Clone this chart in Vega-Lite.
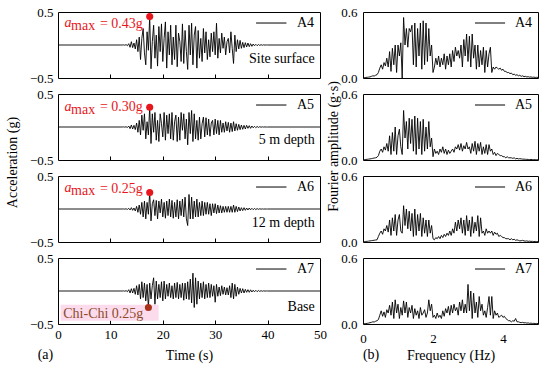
{
"$schema": "https://vega.github.io/schema/vega-lite/v6.json",
"padding": {"left": 4, "top": 5, "right": 5, "bottom": 5},
"config": {
  "font": "Liberation Serif",
  "view": {"stroke": "black", "strokeWidth": 1},
  "axis": {"domain": false, "grid": false, "labelFont": "Liberation Serif", "labelFontSize": 13, "labelColor": "black", "titleFont": "Liberation Serif", "titleFontSize": 14, "titleFontWeight": "normal", "titleColor": "black", "tickColor": "black", "labelFlush": false},
  "text": {"font": "Liberation Serif", "fontSize": 14, "color": "black"}
},
"datasets": {
"ts": [
{"t":0,"a4":0,"a5":0,"a6":0,"a7":0},
{"t":12,"a4":0,"a5":0,"a6":0,"a7":0},
{"t":12.25,"a4":0,"a5":0,"a6":0,"a7":0},
{"t":12.5,"a4":0.002,"a5":0.002,"a6":0.001,"a7":0.002},
{"t":12.75,"a4":-0.003,"a5":-0.002,"a6":-0.002,"a7":-0.003},
{"t":13,"a4":0.005,"a5":0.004,"a6":0.003,"a7":0.005},
{"t":13.25,"a4":-0.01,"a5":-0.008,"a6":-0.006,"a7":-0.01},
{"t":13.5,"a4":0.02,"a5":0.015,"a6":0.01,"a7":0.02},
{"t":13.75,"a4":-0.035,"a5":-0.025,"a6":-0.015,"a7":-0.03},
{"t":14,"a4":0.05,"a5":0.03,"a6":0.02,"a7":0.035},
{"t":14.25,"a4":-0.04,"a5":-0.03,"a6":-0.02,"a7":-0.03},
{"t":14.5,"a4":0.03,"a5":0.025,"a6":0.015,"a7":0.04},
{"t":14.75,"a4":-0.06,"a5":-0.04,"a6":-0.03,"a7":-0.05},
{"t":15,"a4":0.08,"a5":0.06,"a6":0.04,"a7":0.08},
{"t":15.25,"a4":-0.1,"a5":-0.08,"a6":-0.05,"a7":-0.06},
{"t":15.5,"a4":0.12,"a5":0.1,"a6":0.06,"a7":0.1},
{"t":15.75,"a4":-0.22,"a5":-0.12,"a6":-0.08,"a7":-0.12},
{"t":16,"a4":0.1,"a5":0.18,"a6":0.1,"a7":0.14},
{"t":16.25,"a4":0.25,"a5":-0.05,"a6":-0.12,"a7":-0.1},
{"t":16.5,"a4":-0.12,"a5":0.2,"a6":0.12,"a7":0.12},
{"t":16.75,"a4":-0.3,"a5":-0.18,"a6":-0.15,"a7":-0.15},
{"t":17,"a4":0.2,"a5":0.08,"a6":0.1,"a7":0.1},
{"t":17.25,"a4":-0.08,"a5":-0.12,"a6":-0.08,"a7":-0.25},
{"t":17.5,"a4":0.43,"a5":0.3,"a6":0.25,"a7":0.12},
{"t":17.75,"a4":-0.36,"a5":-0.25,"a6":-0.18,"a7":-0.12},
{"t":18,"a4":0.05,"a5":0.2,"a6":0.08,"a7":0.08},
{"t":18.25,"a4":0.3,"a5":-0.08,"a6":0.14,"a7":0.2},
{"t":18.5,"a4":-0.2,"a5":0.22,"a6":-0.1,"a7":-0.2},
{"t":18.75,"a4":0.15,"a5":-0.2,"a6":0.13,"a7":0.15},
{"t":19,"a4":-0.32,"a5":0.1,"a6":-0.15,"a7":-0.12},
{"t":19.25,"a4":0.28,"a5":-0.22,"a6":0.12,"a7":0.1},
{"t":19.5,"a4":-0.1,"a5":0.2,"a6":-0.06,"a7":-0.1},
{"t":19.75,"a4":0.32,"a5":0.05,"a6":0.15,"a7":0.14},
{"t":20,"a4":-0.25,"a5":-0.15,"a6":-0.12,"a7":-0.15},
{"t":20.25,"a4":0.1,"a5":0.22,"a6":0.1,"a7":0.15},
{"t":20.5,"a4":0.35,"a5":-0.2,"a6":-0.14,"a7":-0.12},
{"t":20.75,"a4":-0.35,"a5":0.18,"a6":0.12,"a7":0.1},
{"t":21,"a4":0.2,"a5":-0.1,"a6":-0.1,"a7":-0.08},
{"t":21.25,"a4":-0.15,"a5":0.2,"a6":0.15,"a7":0.12},
{"t":21.5,"a4":0.3,"a5":-0.18,"a6":-0.12,"a7":-0.1},
{"t":21.75,"a4":-0.3,"a5":0.22,"a6":0.13,"a7":0.08},
{"t":22,"a4":0.12,"a5":-0.2,"a6":-0.14,"a7":-0.12},
{"t":22.25,"a4":-0.22,"a5":0.08,"a6":0.1,"a7":0.12},
{"t":22.5,"a4":0.3,"a5":0.18,"a6":-0.12,"a7":-0.1},
{"t":22.75,"a4":-0.33,"a5":-0.22,"a6":0.14,"a7":0.13},
{"t":23,"a4":0.18,"a5":0.15,"a6":-0.15,"a7":-0.12},
{"t":23.25,"a4":0.05,"a5":-0.2,"a6":0.12,"a7":0.1},
{"t":23.5,"a4":-0.25,"a5":0.22,"a6":-0.1,"a7":-0.1},
{"t":23.75,"a4":0.32,"a5":-0.05,"a6":0.15,"a7":0.12},
{"t":24,"a4":-0.28,"a5":0.2,"a6":-0.12,"a7":-0.14},
{"t":24.25,"a4":0.22,"a5":-0.18,"a6":0.18,"a7":0.12},
{"t":24.5,"a4":-0.1,"a5":0.12,"a6":-0.15,"a7":-0.12},
{"t":24.75,"a4":-0.37,"a5":-0.27,"a6":-0.25,"a7":0.14},
{"t":25,"a4":0.3,"a5":0.22,"a6":0.22,"a7":-0.13},
{"t":25.25,"a4":-0.15,"a5":-0.1,"a6":-0.15,"a7":0.18},
{"t":25.5,"a4":0.33,"a5":0.25,"a6":0.18,"a7":-0.18},
{"t":25.75,"a4":-0.3,"a5":-0.22,"a6":-0.15,"a7":0.27},
{"t":26,"a4":0.15,"a5":0.2,"a6":0.12,"a7":-0.25},
{"t":26.25,"a4":0.28,"a5":-0.18,"a6":-0.12,"a7":0.2},
{"t":26.5,"a4":-0.35,"a5":0.1,"a6":0.15,"a7":-0.2},
{"t":26.75,"a4":0.22,"a5":-0.2,"a6":-0.12,"a7":0.15},
{"t":27,"a4":-0.2,"a5":0.15,"a6":0.1,"a7":-0.12},
{"t":27.25,"a4":0.1,"a5":-0.18,"a6":-0.1,"a7":0.12},
{"t":27.5,"a4":-0.25,"a5":0.05,"a6":0.12,"a7":-0.1},
{"t":27.75,"a4":0.25,"a5":0.15,"a6":-0.1,"a7":0.14},
{"t":28,"a4":-0.12,"a5":-0.15,"a6":0.1,"a7":-0.12},
{"t":28.25,"a4":0.2,"a5":0.14,"a6":-0.08,"a7":0.1},
{"t":28.5,"a4":-0.22,"a5":-0.12,"a6":0.1,"a7":-0.1},
{"t":28.75,"a4":0.08,"a5":0.12,"a6":-0.08,"a7":0.12},
{"t":29,"a4":-0.18,"a5":-0.14,"a6":0.08,"a7":-0.1},
{"t":29.25,"a4":0.18,"a5":0.06,"a6":-0.1,"a7":0.1},
{"t":29.5,"a4":-0.1,"a5":0.1,"a6":0.08,"a7":-0.08},
{"t":29.75,"a4":0.2,"a5":-0.12,"a6":-0.06,"a7":0.08},
{"t":30,"a4":-0.15,"a5":0.12,"a6":0.08,"a7":-0.17},
{"t":30.25,"a4":0.33,"a5":-0.1,"a6":-0.07,"a7":0.1},
{"t":30.5,"a4":-0.2,"a5":0.1,"a6":0.06,"a7":-0.08},
{"t":30.75,"a4":0.1,"a5":-0.12,"a6":-0.06,"a7":0.06},
{"t":31,"a4":-0.12,"a5":0.1,"a6":0.05,"a7":-0.07},
{"t":31.25,"a4":0.18,"a5":-0.08,"a6":-0.06,"a7":0.08},
{"t":31.5,"a4":-0.05,"a5":0.06,"a6":0.04,"a7":-0.05},
{"t":31.75,"a4":0.12,"a5":-0.08,"a6":-0.05,"a7":0.06},
{"t":32,"a4":-0.15,"a5":0.08,"a6":0.04,"a7":-0.06},
{"t":32.25,"a4":0.05,"a5":-0.06,"a6":-0.05,"a7":0.05},
{"t":32.5,"a4":0.1,"a5":0.07,"a6":0.04,"a7":-0.06},
{"t":32.75,"a4":-0.12,"a5":-0.08,"a6":-0.05,"a7":0.08},
{"t":33,"a4":0.2,"a5":0.06,"a6":0.04,"a7":-0.1},
{"t":33.25,"a4":-0.05,"a5":-0.07,"a6":-0.05,"a7":0.12},
{"t":33.5,"a4":-0.28,"a5":0.08,"a6":0.06,"a7":-0.12},
{"t":33.75,"a4":0.15,"a5":-0.06,"a6":-0.05,"a7":0.1},
{"t":34,"a4":-0.1,"a5":0.05,"a6":0.04,"a7":-0.08},
{"t":34.25,"a4":0.08,"a5":-0.05,"a6":-0.04,"a7":0.06},
{"t":34.5,"a4":-0.06,"a5":0.04,"a6":0.03,"a7":-0.05},
{"t":34.75,"a4":0.07,"a5":-0.04,"a6":-0.03,"a7":0.04},
{"t":35,"a4":-0.05,"a5":0.03,"a6":0.02,"a7":-0.03},
{"t":35.25,"a4":0.04,"a5":-0.035,"a6":-0.025,"a7":0.035},
{"t":35.5,"a4":-0.04,"a5":0.025,"a6":0.02,"a7":-0.03},
{"t":35.75,"a4":0.035,"a5":-0.03,"a6":-0.02,"a7":0.025},
{"t":36,"a4":-0.03,"a5":0.025,"a6":0.015,"a7":-0.02},
{"t":36.25,"a4":0.03,"a5":-0.02,"a6":-0.015,"a7":0.02},
{"t":36.5,"a4":-0.025,"a5":0.02,"a6":0.015,"a7":-0.02},
{"t":36.75,"a4":0.02,"a5":-0.02,"a6":-0.012,"a7":0.018},
{"t":37,"a4":-0.02,"a5":0.015,"a6":0.01,"a7":-0.015},
{"t":37.25,"a4":0.015,"a5":-0.012,"a6":-0.01,"a7":0.012},
{"t":37.5,"a4":-0.012,"a5":0.01,"a6":0.008,"a7":-0.012},
{"t":37.75,"a4":0.01,"a5":-0.01,"a6":-0.008,"a7":0.01},
{"t":38,"a4":-0.01,"a5":0.008,"a6":0.006,"a7":-0.01},
{"t":38.25,"a4":0.008,"a5":-0.006,"a6":-0.005,"a7":0.008},
{"t":38.5,"a4":-0.006,"a5":0.005,"a6":0.004,"a7":-0.006},
{"t":38.75,"a4":0.005,"a5":-0.004,"a6":-0.003,"a7":0.005},
{"t":39,"a4":-0.004,"a5":0.003,"a6":0.002,"a7":-0.004},
{"t":39.25,"a4":0.003,"a5":-0.002,"a6":-0.002,"a7":0.003},
{"t":39.5,"a4":-0.002,"a5":0.002,"a6":0.001,"a7":-0.002},
{"t":39.75,"a4":0.001,"a5":-0.001,"a6":-0.001,"a7":0.001},
{"t":40,"a4":0,"a5":0,"a6":0,"a7":0},
{"t":50,"a4":0,"a5":0,"a6":0,"a7":0}
],
"fs": [
{"f":0,"b4":0.003,"b5":0.003,"b6":0.003,"b7":0.003},
{"f":0.04,"b4":0.004,"b5":0.004,"b6":0.004,"b7":0.004},
{"f":0.08,"b4":0.005,"b5":0.005,"b6":0.005,"b7":0.004},
{"f":0.12,"b4":0.006,"b5":0.006,"b6":0.006,"b7":0.006},
{"f":0.16,"b4":0.008,"b5":0.008,"b6":0.008,"b7":0.008},
{"f":0.2,"b4":0.01,"b5":0.01,"b6":0.01,"b7":0.012},
{"f":0.24,"b4":0.015,"b5":0.012,"b6":0.012,"b7":0.015},
{"f":0.28,"b4":0.02,"b5":0.015,"b6":0.014,"b7":0.02},
{"f":0.32,"b4":0.018,"b5":0.018,"b6":0.016,"b7":0.018},
{"f":0.36,"b4":0.025,"b5":0.02,"b6":0.018,"b7":0.025},
{"f":0.4,"b4":0.03,"b5":0.025,"b6":0.02,"b7":0.03},
{"f":0.44,"b4":0.05,"b5":0.04,"b6":0.05,"b7":0.04},
{"f":0.48,"b4":0.09,"b5":0.08,"b6":0.08,"b7":0.08},
{"f":0.52,"b4":0.12,"b5":0.1,"b6":0.1,"b7":0.12},
{"f":0.56,"b4":0.08,"b5":0.07,"b6":0.07,"b7":0.07},
{"f":0.6,"b4":0.14,"b5":0.12,"b6":0.12,"b7":0.11},
{"f":0.64,"b4":0.11,"b5":0.09,"b6":0.1,"b7":0.06},
{"f":0.68,"b4":0.18,"b5":0.15,"b6":0.15,"b7":0.13},
{"f":0.72,"b4":0.1,"b5":0.08,"b6":0.09,"b7":0.1},
{"f":0.76,"b4":0.24,"b5":0.22,"b6":0.2,"b7":0.17},
{"f":0.8,"b4":0.06,"b5":0.05,"b6":0.06,"b7":0.08},
{"f":0.84,"b4":0.27,"b5":0.25,"b6":0.22,"b7":0.2},
{"f":0.88,"b4":0.12,"b5":0.08,"b6":0.1,"b7":0.05},
{"f":0.92,"b4":0.3,"b5":0.3,"b6":0.25,"b7":0.22},
{"f":0.96,"b4":0.05,"b5":0.05,"b6":0.06,"b7":0.1},
{"f":1,"b4":0.3,"b5":0.22,"b6":0.2,"b7":0.18},
{"f":1.04,"b4":0.2,"b5":0.28,"b6":0.25,"b7":0.05},
{"f":1.08,"b4":0.32,"b5":0.12,"b6":0.1,"b7":0.15},
{"f":1.12,"b4":0.0,"b5":0.05,"b6":0.08,"b7":0.08},
{"f":1.16,"b4":0.55,"b5":0.45,"b6":0.33,"b7":0.21},
{"f":1.2,"b4":0.3,"b5":0.2,"b6":0.15,"b7":0.1},
{"f":1.24,"b4":0.45,"b5":0.35,"b6":0.3,"b7":0.2},
{"f":1.28,"b4":0.28,"b5":0.1,"b6":0.12,"b7":0.06},
{"f":1.32,"b4":0.45,"b5":0.38,"b6":0.28,"b7":0.15},
{"f":1.36,"b4":0.42,"b5":0.15,"b6":0.1,"b7":0.1},
{"f":1.4,"b4":0.48,"b5":0.37,"b6":0.26,"b7":0.17},
{"f":1.44,"b4":0.12,"b5":0.08,"b6":0.05,"b7":0.05},
{"f":1.48,"b4":0.5,"b5":0.4,"b6":0.3,"b7":0.14},
{"f":1.52,"b4":0.1,"b5":0.05,"b6":0.06,"b7":0.08},
{"f":1.56,"b4":0.45,"b5":0.38,"b6":0.25,"b7":0.12},
{"f":1.6,"b4":0.2,"b5":0.1,"b6":0.1,"b7":0.05},
{"f":1.64,"b4":0.5,"b5":0.35,"b6":0.26,"b7":0.15},
{"f":1.68,"b4":0.08,"b5":0.05,"b6":0.05,"b7":0.08},
{"f":1.72,"b4":0.52,"b5":0.37,"b6":0.22,"b7":0.1},
{"f":1.76,"b4":0.12,"b5":0.08,"b6":0.08,"b7":0.13},
{"f":1.8,"b4":0.5,"b5":0.3,"b6":0.2,"b7":0.06},
{"f":1.84,"b4":0.15,"b5":0.1,"b6":0.05,"b7":0.1},
{"f":1.88,"b4":0.45,"b5":0.35,"b6":0.2,"b7":0.22},
{"f":1.92,"b4":0.2,"b5":0.12,"b6":0.08,"b7":0.12},
{"f":1.96,"b4":0.3,"b5":0.2,"b6":0.15,"b7":0.18},
{"f":2,"b4":0.05,"b5":0.03,"b6":0.03,"b7":0.06},
{"f":2.04,"b4":0.1,"b5":0.1,"b6":0.02,"b7":0.08},
{"f":2.08,"b4":0.18,"b5":0.06,"b6":0.04,"b7":0.05},
{"f":2.12,"b4":0.12,"b5":0.08,"b6":0.03,"b7":0.1},
{"f":2.16,"b4":0.2,"b5":0.05,"b6":0.05,"b7":0.06},
{"f":2.2,"b4":0.1,"b5":0.1,"b6":0.03,"b7":0.08},
{"f":2.24,"b4":0.18,"b5":0.07,"b6":0.06,"b7":0.05},
{"f":2.28,"b4":0.12,"b5":0.12,"b6":0.04,"b7":0.12},
{"f":2.32,"b4":0.22,"b5":0.06,"b6":0.07,"b7":0.07},
{"f":2.36,"b4":0.08,"b5":0.1,"b6":0.05,"b7":0.14},
{"f":2.4,"b4":0.2,"b5":0.05,"b6":0.08,"b7":0.1},
{"f":2.44,"b4":0.12,"b5":0.09,"b6":0.06,"b7":0.16},
{"f":2.48,"b4":0.22,"b5":0.06,"b6":0.1,"b7":0.08},
{"f":2.52,"b4":0.1,"b5":0.08,"b6":0.06,"b7":0.17},
{"f":2.56,"b4":0.25,"b5":0.1,"b6":0.12,"b7":0.1},
{"f":2.6,"b4":0.15,"b5":0.07,"b6":0.08,"b7":0.18},
{"f":2.64,"b4":0.28,"b5":0.12,"b6":0.18,"b7":0.12},
{"f":2.68,"b4":0.2,"b5":0.1,"b6":0.1,"b7":0.15},
{"f":2.72,"b4":0.25,"b5":0.14,"b6":0.2,"b7":0.08},
{"f":2.76,"b4":0.18,"b5":0.09,"b6":0.12,"b7":0.2},
{"f":2.8,"b4":0.3,"b5":0.15,"b6":0.22,"b7":0.12},
{"f":2.84,"b4":0.1,"b5":0.08,"b6":0.08,"b7":0.22},
{"f":2.88,"b4":0.35,"b5":0.13,"b6":0.2,"b7":0.1},
{"f":2.92,"b4":0.2,"b5":0.1,"b6":0.06,"b7":0.18},
{"f":2.96,"b4":0.4,"b5":0.16,"b6":0.24,"b7":0.1},
{"f":3,"b4":0.15,"b5":0.1,"b6":0.1,"b7":0.36},
{"f":3.04,"b4":0.38,"b5":0.12,"b6":0.2,"b7":0.12},
{"f":3.08,"b4":0.1,"b5":0.06,"b6":0.05,"b7":0.3},
{"f":3.12,"b4":0.4,"b5":0.15,"b6":0.23,"b7":0.05},
{"f":3.16,"b4":0.18,"b5":0.08,"b6":0.08,"b7":0.28},
{"f":3.2,"b4":0.3,"b5":0.17,"b6":0.18,"b7":0.1},
{"f":3.24,"b4":0.08,"b5":0.05,"b6":0.1,"b7":0.2},
{"f":3.28,"b4":0.3,"b5":0.15,"b6":0.24,"b7":0.06},
{"f":3.32,"b4":0.1,"b5":0.08,"b6":0.05,"b7":0.25},
{"f":3.36,"b4":0.25,"b5":0.16,"b6":0.22,"b7":0.12},
{"f":3.4,"b4":0.12,"b5":0.05,"b6":0.08,"b7":0.18},
{"f":3.44,"b4":0.28,"b5":0.12,"b6":0.1,"b7":0.08},
{"f":3.48,"b4":0.05,"b5":0.06,"b6":0.06,"b7":0.12},
{"f":3.52,"b4":0.25,"b5":0.14,"b6":0.12,"b7":0.06},
{"f":3.56,"b4":0.1,"b5":0.05,"b6":0.08,"b7":0.15},
{"f":3.6,"b4":0.22,"b5":0.14,"b6":0.1,"b7":0.25},
{"f":3.64,"b4":0.28,"b5":0.08,"b6":0.08,"b7":0.08},
{"f":3.68,"b4":0.05,"b5":0.1,"b6":0.1,"b7":0.25},
{"f":3.72,"b4":0.1,"b5":0.05,"b6":0.06,"b7":0.05},
{"f":3.76,"b4":0.08,"b5":0.07,"b6":0.09,"b7":0.12},
{"f":3.8,"b4":0.1,"b5":0.04,"b6":0.07,"b7":0.08},
{"f":3.84,"b4":0.09,"b5":0.06,"b6":0.08,"b7":0.1},
{"f":3.88,"b4":0.08,"b5":0.05,"b6":0.05,"b7":0.06},
{"f":3.92,"b4":0.09,"b5":0.04,"b6":0.06,"b7":0.07},
{"f":3.96,"b4":0.07,"b5":0.04,"b6":0.05,"b7":0.08},
{"f":4,"b4":0.08,"b5":0.03,"b6":0.04,"b7":0.06},
{"f":4.04,"b4":0.06,"b5":0.03,"b6":0.04,"b7":0.07},
{"f":4.08,"b4":0.06,"b5":0.02,"b6":0.03,"b7":0.05},
{"f":4.12,"b4":0.05,"b5":0.03,"b6":0.03,"b7":0.04},
{"f":4.16,"b4":0.05,"b5":0.02,"b6":0.03,"b7":0.03},
{"f":4.2,"b4":0.04,"b5":0.02,"b6":0.02,"b7":0.03},
{"f":4.24,"b4":0.045,"b5":0.02,"b6":0.03,"b7":0.02},
{"f":4.28,"b4":0.03,"b5":0.015,"b6":0.02,"b7":0.03},
{"f":4.32,"b4":0.035,"b5":0.02,"b6":0.025,"b7":0.025},
{"f":4.36,"b4":0.025,"b5":0.01,"b6":0.015,"b7":0.05},
{"f":4.4,"b4":0.03,"b5":0.015,"b6":0.02,"b7":0.02},
{"f":4.44,"b4":0.02,"b5":0.01,"b6":0.015,"b7":0.02},
{"f":4.48,"b4":0.025,"b5":0.012,"b6":0.01,"b7":0.015},
{"f":4.52,"b4":0.015,"b5":0.01,"b6":0.012,"b7":0.012},
{"f":4.56,"b4":0.02,"b5":0.008,"b6":0.015,"b7":0.015},
{"f":4.6,"b4":0.012,"b5":0.008,"b6":0.01,"b7":0.01},
{"f":4.64,"b4":0.015,"b5":0.006,"b6":0.008,"b7":0.012},
{"f":4.68,"b4":0.01,"b5":0.006,"b6":0.01,"b7":0.008},
{"f":4.72,"b4":0.012,"b5":0.005,"b6":0.006,"b7":0.01},
{"f":4.76,"b4":0.008,"b5":0.004,"b6":0.008,"b7":0.006},
{"f":4.8,"b4":0.01,"b5":0.005,"b6":0.005,"b7":0.008},
{"f":4.84,"b4":0.006,"b5":0.004,"b6":0.006,"b7":0.005},
{"f":4.88,"b4":0.008,"b5":0.003,"b6":0.004,"b7":0.006},
{"f":4.92,"b4":0.005,"b5":0.003,"b6":0.005,"b7":0.004},
{"f":4.96,"b4":0.006,"b5":0.003,"b6":0.004,"b7":0.005},
{"f":5,"b4":0.005,"b5":0.002,"b6":0.003,"b7":0.004}
]
},
"bounds": "flush",
"columns": 2,
"spacing": {"row": 16, "column": 43},
"concat": [
{
"width": 262, "height": 66,
"layer": [
{"data": {"name": "ts"}, "mark": {"type": "line", "color": "black", "strokeWidth": 0.9},
 "encoding": {
  "x": {"field": "t", "type": "quantitative", "scale": {"domain": [0, 50], "nice": false}, "axis": {"values": [10, 20, 30, 40], "labels": false, "tickSize": -4, "title": null}},
  "y": {"field": "a4", "type": "quantitative", "scale": {"domain": [-0.5, 0.5], "nice": false}, "axis": {"values": [-0.5, 0, 0.5], "format": ".1f", "ticks": false, "labelPadding": 5, "title": null}}}},
{"data": {"values": [{}]}, "mark": {"type": "rule", "color": "black", "strokeWidth": 1}, "encoding": {"x": {"datum": 37.8}, "x2": {"datum": 43.6}, "y": {"datum": 0.333}}},
{"data": {"values": [{}]}, "mark": {"type": "text", "align": "left", "baseline": "middle"}, "encoding": {"x": {"datum": 45.6}, "y": {"datum": 0.333}, "text": {"value": "A4"}}},
{"data": {"values": [{}]}, "mark": {"type": "text", "align": "right", "baseline": "alphabetic"}, "encoding": {"x": {"datum": 49}, "y": {"datum": -0.27}, "text": {"value": "Site surface"}}},
{"data": {"values": [{}]}, "mark": {"type": "point", "filled": true, "color": "#e8161c", "opacity": 1, "size": 50}, "encoding": {"x": {"datum": 17.5}, "y": {"datum": 0.43}}},
{"data": {"values": [{}]}, "mark": {"type": "text", "align": "left", "baseline": "alphabetic", "fontStyle": "italic", "color": "#e8161c"}, "encoding": {"x": {"datum": 1.24}, "y": {"datum": 0.27}, "text": {"value": "a"}}},
{"data": {"values": [{}]}, "mark": {"type": "text", "align": "left", "baseline": "alphabetic", "color": "#e8161c"}, "encoding": {"x": {"datum": 2.5}, "y": {"datum": 0.22}, "text": {"value": "max"}}},
{"data": {"values": [{}]}, "mark": {"type": "text", "align": "left", "baseline": "alphabetic", "color": "#e8161c"}, "encoding": {"x": {"datum": 8.0}, "y": {"datum": 0.26}, "text": {"value": "= 0.43g"}}}
]
},
{
"width": 175, "height": 66,
"layer": [
{"data": {"name": "fs"}, "mark": {"type": "line", "color": "black", "strokeWidth": 0.9},
 "encoding": {
  "x": {"field": "f", "type": "quantitative", "scale": {"domain": [0, 5], "nice": false}, "axis": null},
  "y": {"field": "b4", "type": "quantitative", "scale": {"domain": [0, 0.6], "nice": false}, "axis": {"values": [0, 0.6], "format": ".1f", "ticks": false, "labelPadding": 6, "title": null}}}},
{"data": {"values": [{}]}, "mark": {"type": "rule", "color": "black", "strokeWidth": 1}, "encoding": {"x": {"datum": 3.2}, "x2": {"datum": 4.06}, "y": {"datum": 0.5}}},
{"data": {"values": [{}]}, "mark": {"type": "text", "align": "left", "baseline": "middle"}, "encoding": {"x": {"datum": 4.34}, "y": {"datum": 0.5}, "text": {"value": "A4"}}}
]
},
{
"width": 262, "height": 66,
"layer": [
{"data": {"name": "ts"}, "mark": {"type": "line", "color": "black", "strokeWidth": 0.9},
 "encoding": {
  "x": {"field": "t", "type": "quantitative", "scale": {"domain": [0, 50], "nice": false}, "axis": {"values": [10, 20, 30, 40], "labels": false, "tickSize": -4, "title": null}},
  "y": {"field": "a5", "type": "quantitative", "scale": {"domain": [-0.5, 0.5], "nice": false}, "axis": {"values": [-0.5, 0, 0.5], "format": ".1f", "ticks": false, "labelPadding": 5, "title": "Acceleration (g)", "titleX": -46, "titleY": 68, "titleAngle": 270, "titleAlign": "center", "titleBaseline": "middle"}}}},
{"data": {"values": [{}]}, "mark": {"type": "rule", "color": "black", "strokeWidth": 1}, "encoding": {"x": {"datum": 37.8}, "x2": {"datum": 43.6}, "y": {"datum": 0.333}}},
{"data": {"values": [{}]}, "mark": {"type": "text", "align": "left", "baseline": "middle"}, "encoding": {"x": {"datum": 45.6}, "y": {"datum": 0.333}, "text": {"value": "A5"}}},
{"data": {"values": [{}]}, "mark": {"type": "text", "align": "right", "baseline": "alphabetic"}, "encoding": {"x": {"datum": 49}, "y": {"datum": -0.26}, "text": {"value": "5 m depth"}}},
{"data": {"values": [{}]}, "mark": {"type": "point", "filled": true, "color": "#e8161c", "opacity": 1, "size": 50}, "encoding": {"x": {"datum": 17.5}, "y": {"datum": 0.3}}},
{"data": {"values": [{}]}, "mark": {"type": "text", "align": "left", "baseline": "alphabetic", "fontStyle": "italic", "color": "#e8161c"}, "encoding": {"x": {"datum": 1.24}, "y": {"datum": 0.25}, "text": {"value": "a"}}},
{"data": {"values": [{}]}, "mark": {"type": "text", "align": "left", "baseline": "alphabetic", "color": "#e8161c"}, "encoding": {"x": {"datum": 2.5}, "y": {"datum": 0.2}, "text": {"value": "max"}}},
{"data": {"values": [{}]}, "mark": {"type": "text", "align": "left", "baseline": "alphabetic", "color": "#e8161c"}, "encoding": {"x": {"datum": 8.0}, "y": {"datum": 0.24}, "text": {"value": "= 0.30g"}}}
]
},
{
"width": 175, "height": 66,
"layer": [
{"data": {"name": "fs"}, "mark": {"type": "line", "color": "black", "strokeWidth": 0.9},
 "encoding": {
  "x": {"field": "f", "type": "quantitative", "scale": {"domain": [0, 5], "nice": false}, "axis": null},
  "y": {"field": "b5", "type": "quantitative", "scale": {"domain": [0, 0.6], "nice": false}, "axis": {"values": [0, 0.6], "format": ".1f", "ticks": false, "labelPadding": 6, "title": "Fourier amplitude (g·s)", "titleX": -30, "titleY": 52, "titleAngle": 270, "titleAlign": "center", "titleBaseline": "middle"}}}},
{"data": {"values": [{}]}, "mark": {"type": "rule", "color": "black", "strokeWidth": 1}, "encoding": {"x": {"datum": 3.2}, "x2": {"datum": 4.06}, "y": {"datum": 0.5}}},
{"data": {"values": [{}]}, "mark": {"type": "text", "align": "left", "baseline": "middle"}, "encoding": {"x": {"datum": 4.34}, "y": {"datum": 0.5}, "text": {"value": "A5"}}}
]
},
{
"width": 262, "height": 66,
"layer": [
{"data": {"name": "ts"}, "mark": {"type": "line", "color": "black", "strokeWidth": 0.9},
 "encoding": {
  "x": {"field": "t", "type": "quantitative", "scale": {"domain": [0, 50], "nice": false}, "axis": {"values": [10, 20, 30, 40], "labels": false, "tickSize": -4, "title": null}},
  "y": {"field": "a6", "type": "quantitative", "scale": {"domain": [-0.5, 0.5], "nice": false}, "axis": {"values": [-0.5, 0, 0.5], "format": ".1f", "ticks": false, "labelPadding": 5, "title": null}}}},
{"data": {"values": [{}]}, "mark": {"type": "rule", "color": "black", "strokeWidth": 1}, "encoding": {"x": {"datum": 37.8}, "x2": {"datum": 43.6}, "y": {"datum": 0.333}}},
{"data": {"values": [{}]}, "mark": {"type": "text", "align": "left", "baseline": "middle"}, "encoding": {"x": {"datum": 45.6}, "y": {"datum": 0.333}, "text": {"value": "A6"}}},
{"data": {"values": [{}]}, "mark": {"type": "text", "align": "right", "baseline": "alphabetic"}, "encoding": {"x": {"datum": 49}, "y": {"datum": -0.28}, "text": {"value": "12 m depth"}}},
{"data": {"values": [{}]}, "mark": {"type": "point", "filled": true, "color": "#e8161c", "opacity": 1, "size": 50}, "encoding": {"x": {"datum": 17.5}, "y": {"datum": 0.25}}},
{"data": {"values": [{}]}, "mark": {"type": "text", "align": "left", "baseline": "alphabetic", "fontStyle": "italic", "color": "#e8161c"}, "encoding": {"x": {"datum": 1.24}, "y": {"datum": 0.26}, "text": {"value": "a"}}},
{"data": {"values": [{}]}, "mark": {"type": "text", "align": "left", "baseline": "alphabetic", "color": "#e8161c"}, "encoding": {"x": {"datum": 2.5}, "y": {"datum": 0.21}, "text": {"value": "max"}}},
{"data": {"values": [{}]}, "mark": {"type": "text", "align": "left", "baseline": "alphabetic", "color": "#e8161c"}, "encoding": {"x": {"datum": 8.0}, "y": {"datum": 0.25}, "text": {"value": "= 0.25g"}}}
]
},
{
"width": 175, "height": 66,
"layer": [
{"data": {"name": "fs"}, "mark": {"type": "line", "color": "black", "strokeWidth": 0.9},
 "encoding": {
  "x": {"field": "f", "type": "quantitative", "scale": {"domain": [0, 5], "nice": false}, "axis": null},
  "y": {"field": "b6", "type": "quantitative", "scale": {"domain": [0, 0.6], "nice": false}, "axis": {"values": [0, 0.6], "format": ".1f", "ticks": false, "labelPadding": 6, "title": null}}}},
{"data": {"values": [{}]}, "mark": {"type": "rule", "color": "black", "strokeWidth": 1}, "encoding": {"x": {"datum": 3.2}, "x2": {"datum": 4.06}, "y": {"datum": 0.5}}},
{"data": {"values": [{}]}, "mark": {"type": "text", "align": "left", "baseline": "middle"}, "encoding": {"x": {"datum": 4.34}, "y": {"datum": 0.5}, "text": {"value": "A6"}}}
]
},
{
"width": 262, "height": 66,
"layer": [
{"data": {"values": [{}]}, "mark": {"type": "rect", "color": "#fcdcec"}, "encoding": {"x": {"datum": 0.5}, "x2": {"datum": 19.2}, "y": {"datum": -0.21}, "y2": {"datum": -0.45}}},
{"data": {"name": "ts"}, "mark": {"type": "line", "color": "black", "strokeWidth": 0.9},
 "encoding": {
  "x": {"field": "t", "type": "quantitative", "scale": {"domain": [0, 50], "nice": false}, "axis": {"values": [0, 10, 20, 30, 40, 50], "labelPadding": 8, "tickSize": -4, "title": "Time (s)", "titleY": 31, "titleBaseline": "middle"}},
  "y": {"field": "a7", "type": "quantitative", "scale": {"domain": [-0.5, 0.5], "nice": false}, "axis": {"values": [-0.5, 0, 0.5], "format": ".1f", "ticks": false, "labelPadding": 5, "title": null}}}},
{"data": {"values": [{}]}, "mark": {"type": "rule", "color": "black", "strokeWidth": 1}, "encoding": {"x": {"datum": 37.8}, "x2": {"datum": 43.6}, "y": {"datum": 0.333}}},
{"data": {"values": [{}]}, "mark": {"type": "text", "align": "left", "baseline": "middle"}, "encoding": {"x": {"datum": 45.6}, "y": {"datum": 0.333}, "text": {"value": "A7"}}},
{"data": {"values": [{}]}, "mark": {"type": "text", "align": "right", "baseline": "alphabetic"}, "encoding": {"x": {"datum": 49}, "y": {"datum": -0.31}, "text": {"value": "Base"}}},
{"data": {"values": [{}]}, "mark": {"type": "text", "align": "left", "baseline": "alphabetic", "color": "#8c4a2a"}, "encoding": {"x": {"datum": 1.0}, "y": {"datum": -0.41}, "text": {"value": "Chi-Chi 0.25g"}}},
{"data": {"values": [{}]}, "mark": {"type": "point", "filled": true, "color": "#a8321a", "opacity": 1, "size": 50}, "encoding": {"x": {"datum": 17.25}, "y": {"datum": -0.25}}},
{"data": {"values": [{}]}, "mark": {"type": "text", "align": "center", "baseline": "middle"}, "encoding": {"x": {"datum": -2.4}, "y": {"datum": -0.97}, "text": {"value": "(a)"}}}
]
},
{
"width": 175, "height": 66,
"layer": [
{"data": {"name": "fs"}, "mark": {"type": "line", "color": "black", "strokeWidth": 0.9},
 "encoding": {
  "x": {"field": "f", "type": "quantitative", "scale": {"domain": [0, 5], "nice": false}, "axis": {"values": [0, 1, 2, 3, 4, 5], "format": "d", "ticks": false, "labelPadding": 8, "title": "Frequency (Hz)", "titleY": 31, "titleBaseline": "middle"}},
  "y": {"field": "b7", "type": "quantitative", "scale": {"domain": [0, 0.6], "nice": false}, "axis": {"values": [0, 0.6], "format": ".1f", "ticks": false, "labelPadding": 6, "title": null}}}},
{"data": {"values": [{}]}, "mark": {"type": "rule", "color": "black", "strokeWidth": 1}, "encoding": {"x": {"datum": 3.2}, "x2": {"datum": 4.06}, "y": {"datum": 0.5}}},
{"data": {"values": [{}]}, "mark": {"type": "text", "align": "left", "baseline": "middle"}, "encoding": {"x": {"datum": 4.34}, "y": {"datum": 0.5}, "text": {"value": "A7"}}},
{"data": {"values": [{}]}, "mark": {"type": "text", "align": "center", "baseline": "middle"}, "encoding": {"x": {"datum": 0.23}, "y": {"datum": -0.28}, "text": {"value": "(b)"}}}
]
}
]
}
